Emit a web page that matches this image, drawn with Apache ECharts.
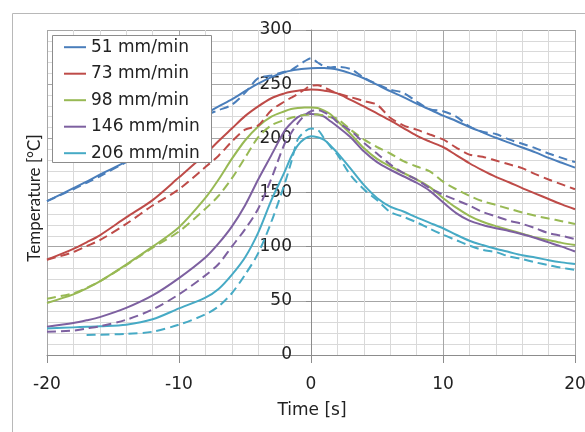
<!DOCTYPE html>
<html>
<head>
<meta charset="utf-8">
<script src="https://cdn.jsdelivr.net/npm/echarts@6/dist/echarts.min.js"></script>
<style>
html,body{margin:0;padding:0;background:#fff;}
#chart{width:585px;height:432px;}
</style>
</head>
<body>
<div id="chart"></div>
<script>
// Time axis (s)
var time = [-20,-18,-17,-16,-14,-12,-10,-8,-7,-6,-5,-4,-3,-2,-1.5,-1,-0.5,0,0.5,1,1.5,2,3,4,5,6,7,8,9,10,11,12,13,14,15,16,17,18,19,20];

// Measured (solid) curves
var meas51  = [142,154,160,166.5,178.5,192,207,222.5,229.5,236,243.5,250.5,256.5,261,262.5,263.5,264.3,264.8,265,265,264.5,263.5,260,255.5,249.5,243.5,238,232,226.5,221,216,210.5,205.5,200.5,196,191.5,187,182,177.5,173];
var meas73  = [88,98,104,110.5,127,143,164,185.5,197.5,209,220.5,229.5,237,241.5,243,244,244.6,245,244.8,244,243,241.5,235.5,229.5,223,216.5,209.5,202.5,197,192,184.5,177,170.5,164.5,159.5,154,149,144,139,134.5];
var meas98  = [48,56,61.5,68,83.5,100,118,145,162,181,198,211,220,225,227,228,228.5,228.5,228,225.5,222,216,204,191,181,174,168,162,155,145,136,128.5,123,119,115.5,112,108.5,106,103.5,101.5];
var meas146 = [26,29.5,32,35,43.5,55,71,90,103,118.5,138,162,184.5,207,214,219.5,222,222.5,222,220,215.5,211,201,188,178,171,165,159,151.5,141,131,124,120,117,114.5,111.5,108,104,100,95.5];
var meas206 = [24.5,25.5,26,26.5,28,33,43,53,61,74,90,113,143,169,183,193.5,199.5,202,201,198.5,193,186.5,172,157,145,137,132.5,127,122,117,111,105.5,101.5,98,95,92,90,87.5,85.5,84];

// Simulated (dashed) curves
var sim51  = [142,153,159,165,178,191,205,221,226,231,242,255.5,258,261.5,263,267,271,274,270,266.5,265.5,266,264,256,250,245,242,234,227,225,220,211,206,204,199,195,191,186,182,178];
var sim73  = [88,95,100.5,106,121,138,153,173.5,184,197,208,212,226,234,237.5,241,245,248.5,249,247,244,241.5,238,234.5,231,219,212,208,203.5,199,191.5,185,183,179.5,176,172.5,167,162,157.5,153];
var sim98  = [52,57,62,68,83,99,114,135,147,163,182,201,212,217,219,220.5,221.5,222,222,221,219.5,218,208,199,192,186,179,174,169.5,160,153,147,142,138.5,135,131.5,128.5,126,123.5,121];
var sim146 = [21.5,22.5,24.5,26.5,32.5,42,56,73.5,84,100,116,135,163,195,205,214,221,225,226,224,220.5,215,207,196,186,176,168,162,154,148,143,138,132,128,124,121,117,112.5,110,107];
var sim206 = [null,null,18.5,18.7,19.5,21.5,28,37.5,45,57,74,94,123,158,178,199,206,209,208,200,192,185,166,153,143,132,127.5,122.5,116.5,111,106,101,97,95,91,88.5,85.5,83,80.5,78.5];

var names  = ['51 mm/min','73 mm/min','98 mm/min','146 mm/min','206 mm/min'];
var colors = ['#4A7EBB','#BE4B48','#98B954','#7D60A0','#46AAC5'];
var measured  = [meas51, meas73, meas98, meas146, meas206];
var simulated = [sim51, sim73, sim98, sim146, sim206];

var yTicks = [0,50,100,150,200,250,300];
var xTicks = [-20,-10,0,10,20];

function pairs(vals){
  return time.map(function(t,i){ return [t, vals[i]]; });
}

var FONT = '"DejaVu Sans", sans-serif';
var VFONT = 'Lato, sans-serif';
var series = [];
for (var i = 0; i < 5; i++) {
  series.push({
    name: names[i], type: 'line', data: pairs(measured[i]),
    symbol: 'none', smooth: 0.3, color: colors[i],
    lineStyle: {width: 2, color: colors[i]}, z: 3
  });
}
for (var i = 0; i < 5; i++) {
  series.push({
    name: names[i] + ' (sim)', type: 'line', data: pairs(simulated[i]),
    symbol: 'none', smooth: 0.3, color: colors[i], connectNulls: false,
    lineStyle: {width: 2, color: colors[i], type: [9,5]}, z: 3
  });
}

var gridLeft = 47, gridRight = 10;
var plotW = 585 - gridLeft - gridRight;
var zeroOffset = plotW * (0 - xTicks[0]) / (xTicks[xTicks.length-1] - xTicks[0]);

var chart = echarts.init(document.getElementById('chart'), null, {renderer: 'canvas'});
chart.setOption({
  animation: false,
  backgroundColor: '#fff',
  grid: {left: gridLeft, right: gridRight, top: 30, bottom: 77, containLabel: false, outerBoundsMode: 'none'},
  xAxis: {
    type: 'value', min: xTicks[0], max: xTicks[xTicks.length-1], interval: 10,
    axisLine: {show: true, onZero: false, lineStyle: {color: '#8c8c8c', width: 1}},
    axisTick: {show: true, length: 8, lineStyle: {color: '#8c8c8c'}},
    axisLabel: {margin: 21, fontSize: 17, color: '#222', fontFamily: FONT},
    splitLine: {show: true, lineStyle: {color: '#a6a6a6', width: 1}},
    minorTick: {show: false, splitNumber: 5},
    minorSplitLine: {show: true, lineStyle: {color: '#d9d9d9', width: 1}}
  },
  yAxis: {
    type: 'value', min: yTicks[0], max: yTicks[yTicks.length-1], interval: 50,
    position: 'left', offset: -zeroOffset,
    axisLine: {show: true, onZero: false, lineStyle: {color: '#8c8c8c', width: 1}},
    axisTick: {show: true, length: 5, lineStyle: {color: '#8c8c8c'}},
    axisLabel: {margin: 19, fontSize: 17, color: '#222', fontFamily: FONT},
    splitLine: {show: true, lineStyle: {color: '#a6a6a6', width: 1}},
    minorTick: {show: false, splitNumber: 5},
    minorSplitLine: {show: true, lineStyle: {color: '#d9d9d9', width: 1}}
  },
  legend: {
    data: names, orient: 'vertical', left: 63, top: 38.7,
    itemWidth: 22, itemHeight: 12, itemGap: 9.5, padding: 0,
    itemStyle: {opacity: 0},
    textStyle: {fontSize: 17, color: '#222', fontFamily: FONT},
    z: 10
  },
  graphic: [
    {type: 'rect', z: 0, silent: true, shape: {x: 12.5, y: 13.5, width: 620, height: 460},
     style: {fill: 'none', stroke: '#b8b8b8', lineWidth: 1}},
    {type: 'rect', z: 9, silent: true, shape: {x: 52.5, y: 35.5, width: 159, height: 127},
     style: {fill: '#fff', stroke: '#8c8c8c', lineWidth: 1}},
    {type: 'text', silent: true, x: 312, y: 411,
     style: {text: 'Time [s]', fontSize: 17, fill: '#222', fontFamily: FONT, align: 'center', verticalAlign: 'middle'}},
    {type: 'text', silent: true, x: 35, y: 198, rotation: Math.PI/2,
     style: {text: 'Temperature [°C]', fontSize: 17, fill: '#222', fontFamily: VFONT, align: 'center', verticalAlign: 'middle'}}
  ],
  series: series
});
</script>
</body>
</html>
